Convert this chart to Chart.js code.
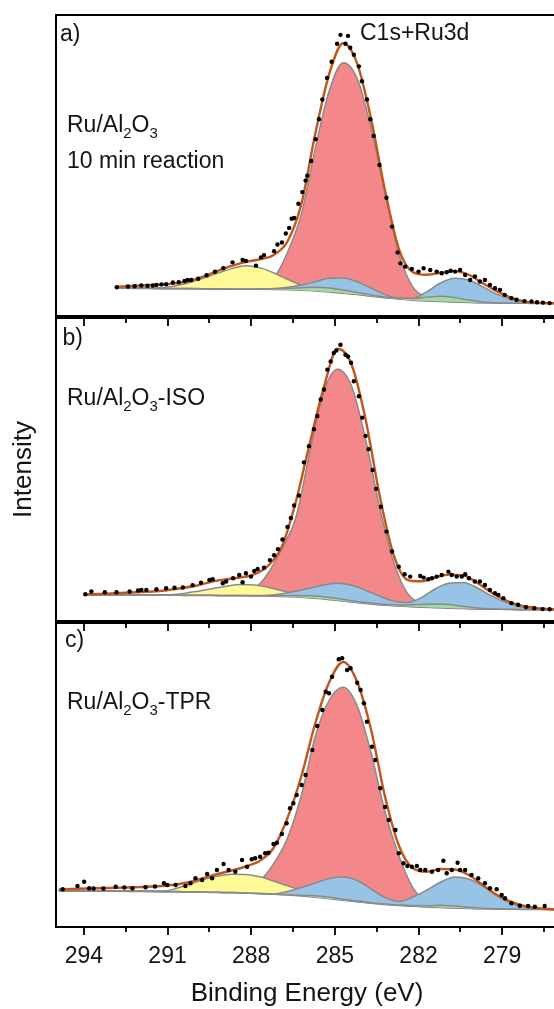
<!DOCTYPE html>
<html>
<head>
<meta charset="utf-8">
<script src="https://cdn.jsdelivr.net/npm/chart.js@4.4.1/dist/chart.umd.min.js"></script>
<style>
  html, body { margin: 0; padding: 0; background: #fff; overflow: hidden; width: 554px; height: 1009px; }
  canvas { position: absolute; left: 0; }
</style>
</head>
<body>
<canvas id="pa" width="562" height="320" style="top:0px;width:562px;height:320px"></canvas>
<canvas id="pb" width="562" height="315" style="top:310px;width:562px;height:315px"></canvas>
<canvas id="pc" width="562" height="409" style="top:600px;width:562px;height:409px"></canvas>
<script>
// ---------------- DATA ----------------
// Binding energy axis ticks
const MAJOR_TICKS = [294, 291, 288, 285, 282, 279];
const TICK_LABELS = ['294', '291', '288', '285', '282', '279'];
const MINOR_TICKS = [292.5, 289.5, 286.5, 283.5, 280.5, 277.5];

// Panel a) Ru/Al2O3 10 min reaction  (intensity, a.u.)
const energyA = [292.8, 292.2, 291.7, 291.2, 290.7, 290.2, 289.7, 289.2, 288.7, 288.2, 287.7, 287.2, 286.7, 286.2, 285.7, 285.2, 284.7, 284.2, 283.7, 283.2, 282.7, 282.2, 281.7, 281.2, 280.7, 280.2, 279.7, 279.2, 278.7, 278.2, 277.7, 277.2, 277.0];
const backgroundA = [282, 280, 279, 278, 277, 276, 275, 274, 273, 272, 271, 270, 267, 262, 255, 245, 232, 218, 202, 187, 174, 162, 154, 148, 143, 139, 136, 133, 131, 130, 129, 128, 128];
const yellowA = [282, 280, 280, 284, 305, 337, 382, 432, 477, 506, 487, 435, 370, 310, 272, 247, 232, 218, 202, 187, 174, 162, 154, 148, 143, 139, 136, 133, 131, 130, 129, 128, 128];
const redA = [282, 280, 279, 278, 277, 276, 275, 274, 274, 278, 305, 380, 640, 1030, 1690, 2270, 2550, 2390, 1890, 1240, 620, 290, 185, 154, 144, 139, 136, 133, 131, 130, 129, 128, 128];
const blueA = [282, 280, 279, 278, 277, 276, 275, 274, 273, 272, 274, 278, 290, 312, 345, 380, 383, 345, 280, 215, 180, 177, 245, 335, 380, 362, 295, 220, 170, 140, 130, 128, 128];
const greenA = [282, 280, 279, 278, 277, 276, 275, 274, 273, 272, 271, 272, 277, 285, 290, 282, 262, 237, 212, 192, 180, 177, 190, 198, 185, 160, 142, 134, 131, 130, 129, 128, 128];
const envelopeA = [295, 304, 310, 318, 330, 355, 400, 455, 505, 545, 570, 615, 750, 1130, 1840, 2440, 2745, 2540, 1980, 1260, 670, 440, 415, 435, 452, 415, 330, 250, 185, 147, 132, 128, 128];
const measEnergyA = [292.82, 292.42, 292.18, 291.94, 291.72, 291.53, 291.40, 291.22, 291.05, 290.81, 290.60, 290.39, 290.28, 290.15, 289.90, 289.60, 289.30, 289.00, 288.67, 288.31, 288.19, 287.83, 287.65, 287.54, 287.18, 287.06, 286.90, 286.76, 286.64, 286.55, 286.46, 286.31, 286.17, 286.05, 285.99, 285.85, 285.69, 285.57, 285.45, 285.28, 285.12, 284.92, 284.80, 284.62, 284.53, 284.45, 284.32, 284.14, 284.03, 283.85, 283.73, 283.61, 283.40, 283.15, 282.95, 282.75, 282.65, 282.48, 282.24, 282.00, 281.82, 281.58, 281.35, 281.17, 280.99, 280.85, 280.69, 280.51, 280.33, 280.15, 279.98, 279.80, 279.62, 279.44, 279.26, 279.08, 278.91, 278.67, 278.49, 278.20, 277.95, 277.75, 277.54, 277.30];
const measIntensityA = [290, 297, 300, 307, 305, 307, 313, 318, 320, 337, 340, 353, 363, 363, 375, 410, 445, 480, 540, 563, 553, 507, 590, 613, 653, 720, 740, 830, 887, 980, 987, 1130, 1247, 1363, 1413, 1560, 1780, 1980, 2180, 2397, 2560, 2740, 2830, 2740, 2820, 2700, 2630, 2513, 2363, 2180, 1980, 1813, 1520, 1190, 900, 640, 530, 497, 473, 447, 480, 463, 447, 430, 440, 455, 447, 463, 413, 363, 397, 347, 363, 313, 280, 263, 213, 180, 163, 150, 147, 138, 135, 130];

// Panel b) Ru/Al2O3-ISO
const energyB = [294.0, 293.4, 292.4, 291.4, 290.9, 290.4, 289.9, 289.4, 288.9, 288.4, 287.9, 287.4, 286.9, 286.4, 285.9, 285.4, 284.9, 284.4, 283.9, 283.4, 282.9, 282.4, 281.9, 281.4, 280.9, 280.4, 279.9, 279.4, 278.9, 278.4, 277.9, 277.4, 277.0];
const backgroundB = [265, 264, 263, 262, 261, 260, 259, 258, 257, 256, 255, 254, 250, 244, 235, 223, 208, 193, 179, 166, 156, 148, 142, 137, 132, 128, 124, 121, 119, 117, 116, 115, 114];
const yellowB = [265, 264, 263, 262, 265, 278, 300, 325, 350, 367, 362, 340, 305, 270, 242, 225, 208, 193, 179, 166, 156, 148, 142, 137, 132, 128, 124, 121, 119, 117, 116, 115, 114];
const redB = [265, 264, 263, 262, 261, 260, 259, 258, 258, 270, 320, 480, 730, 1040, 1700, 2310, 2535, 2363, 1830, 1150, 600, 280, 175, 145, 133, 128, 124, 121, 119, 117, 116, 115, 114];
const blueB = [265, 264, 263, 262, 261, 260, 259, 258, 257, 256, 256, 260, 275, 300, 330, 362, 380, 360, 310, 250, 200, 185, 235, 325, 380, 387, 335, 255, 190, 145, 125, 117, 114];
const greenB = [265, 264, 263, 262, 261, 260, 259, 258, 257, 256, 255, 254, 254, 256, 255, 245, 226, 205, 187, 172, 164, 162, 167, 172, 165, 148, 132, 123, 119, 117, 116, 115, 114];
const envelopeB = [267, 272, 285, 300, 315, 335, 360, 397, 420, 438, 470, 555, 750, 1200, 1790, 2350, 2740, 2580, 2030, 1270, 670, 415, 400, 440, 467, 460, 385, 290, 210, 160, 135, 122, 118];
const measEnergyB = [293.95, 293.73, 293.25, 292.83, 292.36, 292.06, 291.94, 291.76, 291.40, 291.05, 290.75, 290.45, 290.10, 289.80, 289.50, 289.38, 289.02, 288.90, 288.65, 288.43, 288.31, 288.19, 288.01, 287.89, 287.77, 287.54, 287.33, 287.18, 287.04, 286.88, 286.70, 286.58, 286.46, 286.29, 286.11, 285.93, 285.75, 285.63, 285.51, 285.39, 285.27, 285.15, 285.04, 284.95, 284.80, 284.62, 284.53, 284.42, 284.32, 284.14, 284.02, 283.90, 283.79, 283.65, 283.52, 283.35, 283.15, 282.95, 282.71, 282.50, 282.30, 281.94, 281.82, 281.65, 281.52, 281.35, 281.17, 280.93, 280.81, 280.63, 280.45, 280.33, 280.19, 279.98, 279.80, 279.62, 279.44, 279.26, 279.14, 278.96, 278.67, 278.43, 278.15, 277.85, 277.55, 277.30];
const measIntensityB = [270, 297, 290, 290, 297, 307, 313, 313, 320, 330, 335, 337, 360, 385, 413, 420, 380, 397, 430, 463, 390, 480, 447, 503, 523, 537, 613, 663, 723, 820, 947, 1037, 1163, 1263, 1597, 1760, 1930, 2063, 2230, 2330, 2530, 2613, 2697, 2723, 2780, 2680, 2663, 2600, 2413, 2263, 2047, 1863, 1730, 1520, 1330, 1150, 900, 700, 547, 470, 447, 453, 437, 420, 430, 447, 463, 497, 463, 447, 447, 470, 430, 397, 397, 363, 313, 280, 263, 230, 180, 163, 140, 128, 120, 118];

// Panel c) Ru/Al2O3-TPR
const energyC = [294.9, 294.2, 293.2, 292.2, 291.2, 290.7, 290.2, 289.7, 289.2, 288.7, 288.2, 287.7, 287.2, 286.7, 286.2, 285.7, 285.2, 284.7, 284.2, 283.7, 283.2, 282.7, 282.2, 281.7, 281.2, 280.7, 280.2, 279.7, 279.2, 278.7, 278.2, 277.7, 277.2, 277.0];
const backgroundC = [363, 362, 360, 358, 356, 354, 352, 350, 347, 344, 340, 336, 330, 322, 312, 300, 286, 270, 254, 240, 227, 217, 209, 202, 197, 192, 188, 185, 182, 180, 178, 177, 176, 176];
const yellowC = [363, 362, 360, 358, 358, 385, 430, 475, 510, 528, 525, 502, 460, 412, 365, 325, 295, 270, 254, 240, 227, 217, 209, 202, 197, 192, 188, 185, 182, 180, 178, 177, 176, 176];
const redC = [363, 362, 360, 358, 356, 354, 352, 350, 348, 355, 380, 460, 630, 890, 1320, 1910, 2270, 2397, 2210, 1740, 1150, 710, 390, 250, 205, 193, 188, 185, 182, 180, 178, 177, 176, 176];
const blueC = [363, 362, 360, 358, 356, 354, 352, 350, 347, 344, 340, 336, 332, 355, 395, 440, 485, 500, 465, 380, 295, 255, 300, 370, 450, 500, 480, 410, 315, 240, 200, 182, 177, 176];
const greenC = [363, 362, 360, 358, 356, 354, 352, 350, 347, 344, 340, 336, 330, 322, 316, 312, 298, 278, 259, 243, 230, 221, 214, 213, 217, 210, 198, 188, 183, 180, 178, 177, 176, 176];
const envelopeC = [375, 382, 390, 397, 410, 425, 450, 490, 530, 565, 605, 660, 790, 1090, 1510, 2040, 2450, 2650, 2450, 1970, 1300, 810, 587, 553, 580, 575, 520, 420, 323, 253, 210, 187, 178, 176];
const measEnergyC = [294.76, 294.23, 293.99, 293.81, 293.65, 293.30, 292.86, 292.55, 292.26, 291.79, 291.45, 291.13, 291.01, 290.71, 290.36, 290.18, 290.00, 289.76, 289.58, 289.40, 289.23, 288.99, 288.81, 288.57, 288.33, 288.15, 287.98, 287.86, 287.68, 287.50, 287.38, 287.20, 287.08, 286.90, 286.73, 286.61, 286.49, 286.37, 286.19, 286.05, 285.81, 285.63, 285.45, 285.33, 285.21, 285.10, 284.86, 284.74, 284.56, 284.44, 284.20, 284.08, 283.96, 283.85, 283.67, 283.55, 283.37, 283.20, 283.07, 282.83, 282.71, 282.54, 282.40, 282.24, 282.06, 281.94, 281.76, 281.52, 281.30, 281.11, 280.99, 280.81, 280.60, 280.51, 280.33, 280.10, 279.86, 279.62, 279.44, 279.20, 279.02, 278.90, 278.67, 278.37, 278.07, 277.83, 277.48];
const measIntensityC = [377, 410, 453, 387, 385, 385, 403, 395, 387, 397, 405, 437, 420, 420, 410, 437, 487, 470, 530, 487, 570, 630, 570, 553, 670, 603, 677, 687, 703, 737, 743, 830, 843, 930, 1037, 1187, 1237, 1320, 1420, 1520, 1770, 2010, 2170, 2353, 2337, 2503, 2677, 2687, 2570, 2587, 2443, 2370, 2237, 2053, 1803, 1670, 1387, 1200, 1070, 970, 737, 637, 610, 603, 610, 570, 570, 553, 570, 663, 537, 570, 643, 570, 570, 520, 487, 437, 387, 377, 320, 287, 237, 213, 210, 203, 210];

// ---------------- STYLE ----------------
const FONT = "'Liberation Sans', Arial, Helvetica, sans-serif";
const TXT = '#141414';
const FIT = '#C2561C';
const GRAY = '#8a8a8a';
const C_RED = 'rgba(243,135,137,1)';
const C_YEL = 'rgba(255,250,150,1)';
const C_BLU = 'rgba(150,195,230,1)';
const C_GRN = 'rgba(163,218,160,1)';

Chart.defaults.font.family = FONT;
Chart.defaults.color = TXT;

const pts = (E, V) => E.map((e, i) => ({x: e, y: V[i]}));

function datasets(E, env, mE, mV, green, blue, yellow, red, base) {
  const comp = (v, col) => ({data: pts(E, v), borderColor: GRAY, borderWidth: 1.5, backgroundColor: col,
    fill: 6, pointRadius: 0, cubicInterpolationMode: 'monotone'});
  return [
    {data: pts(mE, mV), showLine: false, pointRadius: 2.2, pointBackgroundColor: '#000', pointBorderWidth: 0},
    {data: pts(E, env), borderColor: FIT, borderWidth: 2.4, pointRadius: 0, fill: false, cubicInterpolationMode: 'monotone'},
    comp(green, C_GRN),
    comp(blue, C_BLU),
    comp(yellow, C_YEL),
    comp(red, C_RED),
    {data: pts(E, base), borderColor: GRAY, borderWidth: 2, pointRadius: 0, fill: false, cubicInterpolationMode: 'monotone'}
  ];
}

const frameTicks = {
  id: 'frameTicks',
  afterDraw(chart, args, o) {
    const {ctx, chartArea: a} = chart;
    const x = chart.scales.x;
    ctx.save();
    ctx.strokeStyle = '#000';
    ctx.lineWidth = 2;
    ctx.strokeRect(a.left, a.top, a.right - a.left, a.bottom - a.top);
    ctx.lineWidth = 1.8;
    const tick = (v, len, y) => {
      const p = Math.round(x.getPixelForValue(v));
      ctx.beginPath(); ctx.moveTo(p, y); ctx.lineTo(p, y + len); ctx.stroke();
    };
    if (o.topTicks) { MAJOR_TICKS.forEach(v => tick(v, 8, a.top)); MINOR_TICKS.forEach(v => tick(v, 5, a.top)); }
    if (o.bottomTicks) { MAJOR_TICKS.forEach(v => tick(v, 8, a.bottom)); MINOR_TICKS.forEach(v => tick(v, 5, a.bottom)); }
    ctx.fillStyle = TXT;
    ctx.textBaseline = 'alphabetic';
    ctx.textAlign = 'left';
    (o.labels || []).forEach(l => {
      let cx = a.left + l.dx;
      const by = a.top + l.dy;
      l.parts.forEach(([t, sub]) => {
        ctx.font = (sub ? '15px ' : '23px ') + FONT;
        ctx.fillText(t, cx, by + (sub ? 6 : 0));
        cx += ctx.measureText(t).width;
      });
    });
    ctx.restore();
  }
};

function makeChart(id, ds, ymax, padding, xAxis, yAxis, pluginOpts) {
  return new Chart(document.getElementById(id), {
    type: 'line',
    data: {datasets: ds},
    options: {
      responsive: false, animation: false, devicePixelRatio: 1,
      layout: {padding},
      plugins: {legend: {display: false}, tooltip: {enabled: false}, frameTicks: pluginOpts},
      scales: {
        x: Object.assign({type: 'linear', min: 277, max: 295, reverse: true}, xAxis),
        y: Object.assign({type: 'linear', min: 0, max: ymax}, yAxis)
      }
    },
    plugins: [frameTicks]
  });
}

const hiddenX = {display: false};
const hiddenY = {display: false};

makeChart('pa', datasets(energyA, envelopeA, measEnergyA, measIntensityA, greenA, blueA, yellowA, redA, backgroundA),
  3030, {left: 56, right: 2, top: 15, bottom: 2}, hiddenX, hiddenY,
  {topTicks: false, bottomTicks: false, labels: [
    {dx: 4, dy: 26, parts: [['a)', 0]]},
    {dx: 304, dy: 25, parts: [['C1s+Ru3d', 0]]},
    {dx: 11, dy: 116.5, parts: [['Ru/Al', 0], ['2', 1], ['O', 0], ['3', 1]]},
    {dx: 11, dy: 153, parts: [['10 min reaction', 0]]}
  ]});

makeChart('pb', datasets(energyB, envelopeB, measEnergyB, measIntensityB, greenB, blueB, yellowB, redB, backgroundB),
  3050, {left: 0, right: 2, top: 8, bottom: 2}, hiddenX,
  {display: true, ticks: {display: false}, grid: {display: false, drawTicks: false}, border: {display: false},
   afterFit: s => { s.width = 56; },
   title: {display: true, text: 'Intensity', color: TXT, font: {size: 26, family: FONT}, padding: {top: 8, bottom: 0}}},
  {topTicks: true, bottomTicks: false, labels: [
    {dx: 6.5, dy: 27, parts: [['b)', 0]]},
    {dx: 11, dy: 87, parts: [['Ru/Al', 0], ['2', 1], ['O', 0], ['3', 1], ['-ISO', 0]]}
  ]});

makeChart('pc', datasets(energyC, envelopeC, measEnergyC, measIntensityC, greenC, blueC, yellowC, redC, backgroundC),
  3040, {left: 56, right: 2, top: 23, bottom: 0},
  {display: true,
   afterBuildTicks: s => { s.ticks = MAJOR_TICKS.map(v => ({value: v})); },
   afterFit: s => { s.height = 82; },
   ticks: {autoSkip: false, maxRotation: 0, padding: 16, color: TXT, font: {size: 23, family: FONT},
     callback: (v, i) => TICK_LABELS[i]},
   grid: {display: false, drawTicks: false}, border: {display: false},
   title: {display: true, text: 'Binding Energy (eV)', color: TXT, font: {size: 26, family: FONT}, padding: {top: 7, bottom: 0}}},
  hiddenY,
  {topTicks: true, bottomTicks: true, labels: [
    {dx: 9, dy: 24, parts: [['c)', 0]]},
    {dx: 11, dy: 86, parts: [['Ru/Al', 0], ['2', 1], ['O', 0], ['3', 1], ['-TPR', 0]]}
  ]});
</script>
</body>
</html>
